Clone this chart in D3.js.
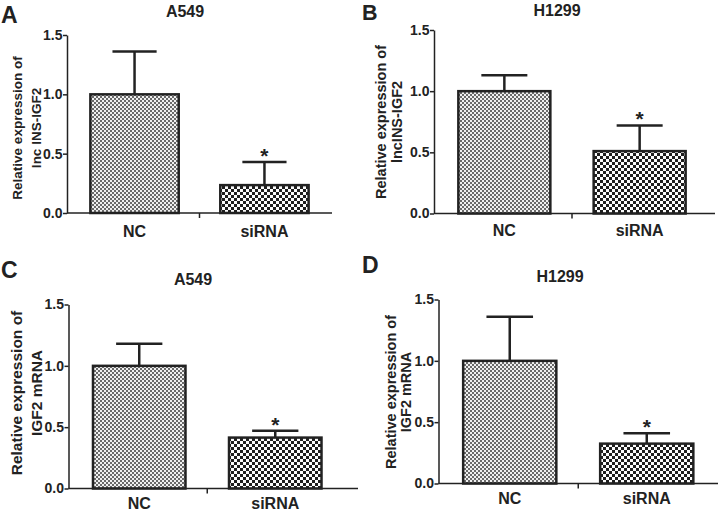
<!DOCTYPE html>
<html><head><meta charset="utf-8">
<script src="https://cdn.jsdelivr.net/npm/d3@7"></script>
<style>body{margin:0;background:#fff}svg{display:block}text{font-family:"Liberation Sans",Arial,sans-serif;font-weight:bold;fill:#222}</style>
</head><body>
<svg id="c" width="720" height="516"></svg>
<script>
const categories = ["NC", "siRNA"];
const panelLetters = ["A", "B", "C", "D"];
const panelTitles = ["A549", "H1299", "A549", "H1299"];
const yLabelLine1 = ["Relative expression of", "Relative expression of", "Relative expression of", "Relative expression of"];
const yLabelLine2 = ["lnc INS-IGF2", "lncINS-IGF2", "IGF2 mRNA", "IGF2 mRNA"];
const meansA = [1.0, 0.235];
const errorsA = [0.36, 0.195];
const meansB = [1.0, 0.51];
const errorsB = [0.13, 0.21];
const meansC = [1.0, 0.415];
const errorsC = [0.18, 0.055];
const meansD = [1.0, 0.325];
const errorsD = [0.36, 0.085];
const significance = ["", "*"];
const yTicks = [0.0, 0.5, 1.0, 1.5];

const means = [meansA, meansB, meansC, meansD];
const errors = [errorsA, errorsB, errorsC, errorsD];

const layout = [
  {ax:67, yTop:35, yBot:213, xEnd:332, bandEnd:332, letterX:1, letterY:23, letterFont:23, titleX:185, titleY:17, yl1:22, yl2:40.5, ylY:128, ylFont:13.5, catY:237},
  {ax:434, yTop:30, yBot:213.5, xEnd:715, bandEnd:710, letterX:362, letterY:20, letterFont:21.5, titleX:557, titleY:15.5, yl1:386, yl2:401.5, ylY:122, ylFont:14.5, catY:236},
  {ax:68.5, yTop:304.5, yBot:488.5, xEnd:358, bandEnd:346, letterX:1, letterY:278, letterFont:23, titleX:193, titleY:285, yl1:22, yl2:41.5, ylY:393, ylFont:15.5, catY:509},
  {ax:438.5, yTop:299.5, yBot:483.5, xEnd:718, bandEnd:718, letterX:362, letterY:273, letterFont:23, titleX:560, titleY:281.5, yl1:396, yl2:411, ylY:392, ylFont:14.5, catY:504}
];

const svg = d3.select("#c");
const defs = svg.append("defs");
const p1 = defs.append("pattern").attr("id","fine").attr("width",4).attr("height",4).attr("patternUnits","userSpaceOnUse");
p1.append("rect").attr("width",4).attr("height",4).attr("fill","#f0f0f0");
p1.append("rect").attr("width",2).attr("height",2).attr("fill","#6a6a6a");
p1.append("rect").attr("x",2).attr("y",2).attr("width",2).attr("height",2).attr("fill","#6a6a6a");
const p2 = defs.append("pattern").attr("id","coarse").attr("width",6).attr("height",6).attr("patternUnits","userSpaceOnUse");
p2.append("rect").attr("width",6).attr("height",6).attr("fill","#fcfcfc");
p2.append("rect").attr("width",3).attr("height",3).attr("fill","#1e1e1e");
p2.append("rect").attr("x",3).attr("y",3).attr("width",3).attr("height",3).attr("fill","#1e1e1e");
const fills = ["url(#fine)", "url(#coarse)"];

layout.forEach((L, i) => {
  const g = svg.append("g");
  const y = d3.scaleLinear().domain([0, 1.5]).range([L.yBot, L.yTop]);
  const x = d3.scaleBand().domain(categories).range([L.ax, L.bandEnd]).paddingInner(0.32).paddingOuter(0.18);

  g.selectAll("rect.bar").data(categories).enter().append("rect")
    .attr("x", d => x(d)).attr("width", x.bandwidth())
    .attr("y", (d, j) => y(means[i][j])).attr("height", (d, j) => y(0) - y(means[i][j]))
    .attr("fill", (d, j) => fills[j]).attr("stroke", "#222").attr("stroke-width", 2.5);

  categories.forEach((c, j) => {
    const cx = x(c) + x.bandwidth() / 2;
    const top = y(means[i][j] + errors[i][j]);
    g.append("line").attr("x1", cx).attr("x2", cx).attr("y1", y(means[i][j])).attr("y2", top)
      .attr("stroke", "#222").attr("stroke-width", 2.5);
    const hw = x.bandwidth() * 0.25;
    g.append("line").attr("x1", cx - hw).attr("x2", cx + hw).attr("y1", top).attr("y2", top)
      .attr("stroke", "#222").attr("stroke-width", 2.5);
    if (significance[j]) {
      g.append("text").attr("x", cx).attr("y", top + 1).attr("text-anchor", "middle")
        .style("font-size", "21px").text(significance[j]);
    }
  });

  const yAxis = d3.axisLeft(y).tickValues(yTicks).tickFormat(d3.format(".1f")).tickSize(4).tickSizeOuter(0);
  const ya = g.append("g").attr("transform", `translate(${L.ax},0)`).call(yAxis);
  ya.select(".domain").attr("stroke", "#222").attr("stroke-width", 1.5);
  ya.selectAll(".tick line").attr("stroke", "#222").attr("stroke-width", 1.5);
  ya.selectAll(".tick text").style("font-size", "14px").attr("x", -4.5).attr("fill", "#222");

  g.append("line").attr("x1", L.ax).attr("x2", L.xEnd).attr("y1", y(0)).attr("y2", y(0))
    .attr("stroke", "#222").attr("stroke-width", 1.5);
  const mid = (x(categories[0]) + x.bandwidth() + x(categories[1])) / 2;
  g.append("line").attr("x1", mid).attr("x2", mid).attr("y1", y(0)).attr("y2", y(0) + 5)
    .attr("stroke", "#222").attr("stroke-width", 1.5);

  g.selectAll("text.cat").data(categories).enter().append("text")
    .attr("x", d => x(d) + x.bandwidth() / 2).attr("y", L.catY).attr("text-anchor", "middle")
    .style("font-size", "16px").text(d => d);

  g.append("text").attr("x", L.titleX).attr("y", L.titleY).attr("text-anchor", "middle")
    .style("font-size", "16px").text(panelTitles[i]);
  g.append("text").attr("x", L.letterX).attr("y", L.letterY).style("font-size", L.letterFont + "px").attr("fill", "#000").text(panelLetters[i]);
  g.append("text").attr("transform", `translate(${L.yl1},${L.ylY}) rotate(-90)`).attr("text-anchor", "middle")
    .style("font-size", L.ylFont + "px").text(yLabelLine1[i]);
  g.append("text").attr("transform", `translate(${L.yl2},${L.ylY}) rotate(-90)`).attr("text-anchor", "middle")
    .style("font-size", L.ylFont + "px").text(yLabelLine2[i]);
});
</script>
</body></html>
